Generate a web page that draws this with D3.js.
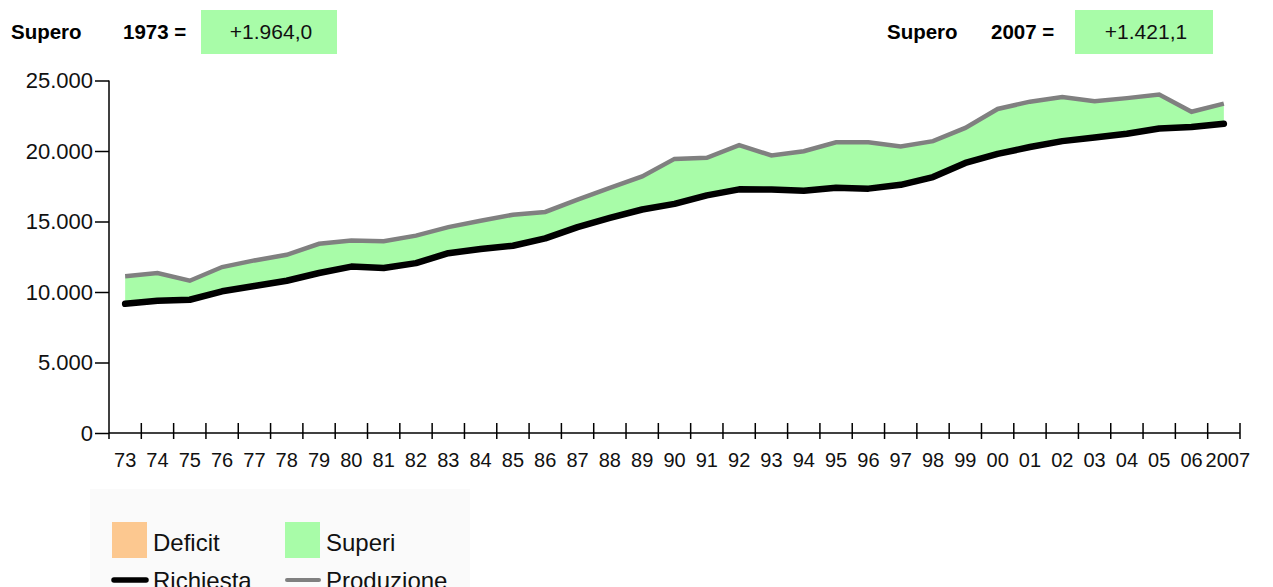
<!DOCTYPE html>
<html>
<head>
<meta charset="utf-8">
<script src="https://cdn.jsdelivr.net/npm/d3@7"></script>
<style>
  body { margin: 0; background: #fff; }
  svg { display: block; font-family: "Liberation Sans", Arial, sans-serif; }
</style>
</head>
<body>
<div id="chart"></div>
<script>
// years on the x axis (band labels)
const years = ["73","74","75","76","77","78","79","80","81","82","83","84","85","86","87","88","89","90",
  "91","92","93","94","95","96","97","98","99","00","01","02","03","04","05","06","2007"];

// Richiesta (demand) and Produzione (production)
const richiesta = [9160, 9375, 9450, 10050, 10420, 10800, 11350, 11800, 11700, 12050, 12750, 13050,
  13280, 13800, 14600, 15250, 15850, 16250, 16850, 17280, 17270, 17180, 17400, 17330, 17600, 18150,
  19150, 19800, 20280, 20700, 20950, 21220, 21600, 21700, 21940];
const produzione = [11124, 11340, 10800, 11770, 12240, 12640, 13420, 13660, 13600, 14000, 14600, 15050,
  15480, 15680, 16550, 17380, 18200, 19440, 19520, 20420, 19680, 19980, 20620, 20620, 20320, 20700,
  21640, 22980, 23500, 23820, 23530, 23750, 24000, 22780, 23361.1];

const yTicks = [0, 5000, 10000, 15000, 20000, 25000];

const legendNames = ["Deficit", "Superi", "Richiesta", "Produzione"];

const colors = {
  deficit: "#fcc890",
  superi: "#a8fca8",
  richiesta: "#000",
  produzione: "#808080"
};

const width = 1273, height = 587;

const it = d3.formatLocale({decimal: ",", thousands: ".", grouping: [3], currency: ["", ""]});
const fmtTick = it.format(",");
const fmtDiff = it.format("+,.1f");

const x = d3.scaleBand().domain(years).range([109, 1240]);
const y = d3.scaleLinear().domain([0, 25000]).range([433, 80.5]);
const cx = d => x(d) + x.bandwidth() / 2;

const svg = d3.select("#chart").append("svg")
    .attr("width", width)
    .attr("height", height);

// legend background
svg.append("rect")
    .attr("x", 90).attr("y", 489)
    .attr("width", 380).attr("height", 100)
    .attr("fill", "#fafafa");

// header: surplus first and last year
let header = [
  {label: "Supero", year: "1973 =", v: produzione[0] - richiesta[0], x0: 11, x1: 123, bx: 201, bw: 136},
  {label: "Supero", year: "2007 =", v: produzione[produzione.length - 1] - richiesta[richiesta.length - 1], x0: 887, x1: 991, bx: 1075, bw: 138}
];
let hg = svg.append("g").selectAll("g").data(header).join("g");
hg.append("text").attr("x", d => d.x0).attr("y", 39)
    .style("font-size", "20.5px").style("font-weight", "bold").text(d => d.label);
hg.append("text").attr("x", d => d.x1).attr("y", 39)
    .style("font-size", "20.5px").style("font-weight", "bold").text(d => d.year);
hg.append("rect").attr("x", d => d.bx).attr("y", 10)
    .attr("width", d => d.bw).attr("height", 44).attr("fill", colors.superi);
hg.append("text").attr("x", d => d.bx + d.bw / 2 + 2).attr("y", 39)
    .attr("text-anchor", "middle").style("font-size", "21px").attr("fill", "#111").text(d => fmtDiff(d.v));

// surplus area between the two lines
let idx = d3.range(years.length);
let area = d3.area()
    .x(i => cx(years[i]))
    .y0(i => y(richiesta[i]))
    .y1(i => y(Math.max(produzione[i], richiesta[i])));
svg.append("path").datum(idx)
    .attr("d", area)
    .attr("fill", colors.superi);

let deficitArea = d3.area()
    .x(i => cx(years[i]))
    .y0(i => y(produzione[i]))
    .y1(i => y(Math.max(produzione[i], richiesta[i])));
svg.append("path").datum(idx)
    .attr("d", deficitArea)
    .attr("fill", colors.deficit);

let line = arr => d3.line().x(i => cx(years[i])).y(i => y(arr[i]));

svg.append("path").datum(idx)
    .attr("d", line(produzione))
    .attr("fill", "none")
    .attr("stroke", colors.produzione)
    .attr("stroke-width", 4.5);

svg.append("path").datum(idx)
    .attr("d", line(richiesta))
    .attr("fill", "none")
    .attr("stroke", colors.richiesta)
    .attr("stroke-width", 6.5)
    .attr("stroke-linecap", "round")
    .attr("stroke-linejoin", "round");

// y axis
let yAxis = svg.append("g")
    .attr("transform", "translate(109,0)")
    .call(d3.axisLeft(y).tickValues(yTicks).tickSize(14).tickPadding(2).tickSizeOuter(0).tickFormat(fmtTick));
yAxis.select(".domain").remove();
yAxis.selectAll(".tick line").attr("stroke-width", 1.5);
yAxis.selectAll("text").style("font-size", "22px").attr("fill", "#111").attr("font-family", null);
svg.append("line")
    .attr("x1", 109).attr("x2", 109)
    .attr("y1", y(25000)).attr("y2", y(0) + 6)
    .attr("stroke", "#000").attr("stroke-width", 1.5);

// x axis
svg.append("line")
    .attr("x1", 109).attr("x2", 1240)
    .attr("y1", y(0)).attr("y2", y(0))
    .attr("stroke", "#000").attr("stroke-width", 1.5);
svg.append("g").selectAll("line")
    .data(years)
    .join("line")
    .attr("x1", d => x(d) + x.bandwidth())
    .attr("x2", d => x(d) + x.bandwidth())
    .attr("y1", y(0) - 10)
    .attr("y2", y(0) + 6)
    .attr("stroke", "#000").attr("stroke-width", 1.5);

let xAxis = svg.append("g")
    .attr("transform", `translate(0,${y(0)})`)
    .call(d3.axisBottom(x).tickSize(0).tickPadding(20));
xAxis.select(".domain").remove();
xAxis.selectAll("text")
    .style("font-size", "20px")
    .attr("fill", "#111")
    .attr("font-family", null)
    .attr("dx", d => d === "2007" ? 4 : 0);

// legend
let lg = svg.append("g").style("font-size", "24px");
let swatches = [
  {name: legendNames[0], c: colors.deficit, x: 112, type: "box"},
  {name: legendNames[1], c: colors.superi, x: 285, type: "box"},
  {name: legendNames[2], c: colors.richiesta, x: 112, type: "line", w: 5.5},
  {name: legendNames[3], c: colors.produzione, x: 285, type: "line", w: 4}
];
swatches.forEach(s => {
  if (s.type === "box") {
    lg.append("rect").attr("x", s.x).attr("y", 522).attr("width", 35).attr("height", 36).attr("fill", s.c);
    lg.append("text").attr("x", s.x + 41).attr("y", 551).attr("fill", "#111").text(s.name);
  } else {
    lg.append("line").attr("x1", s.x + 2).attr("x2", s.x + 34).attr("y1", 580).attr("y2", 580)
        .attr("stroke", s.c).attr("stroke-width", s.w).attr("stroke-linecap", "round");
    lg.append("text").attr("x", s.x + 41).attr("y", 589).attr("fill", "#111").text(s.name);
  }
});
</script>
</body>
</html>
